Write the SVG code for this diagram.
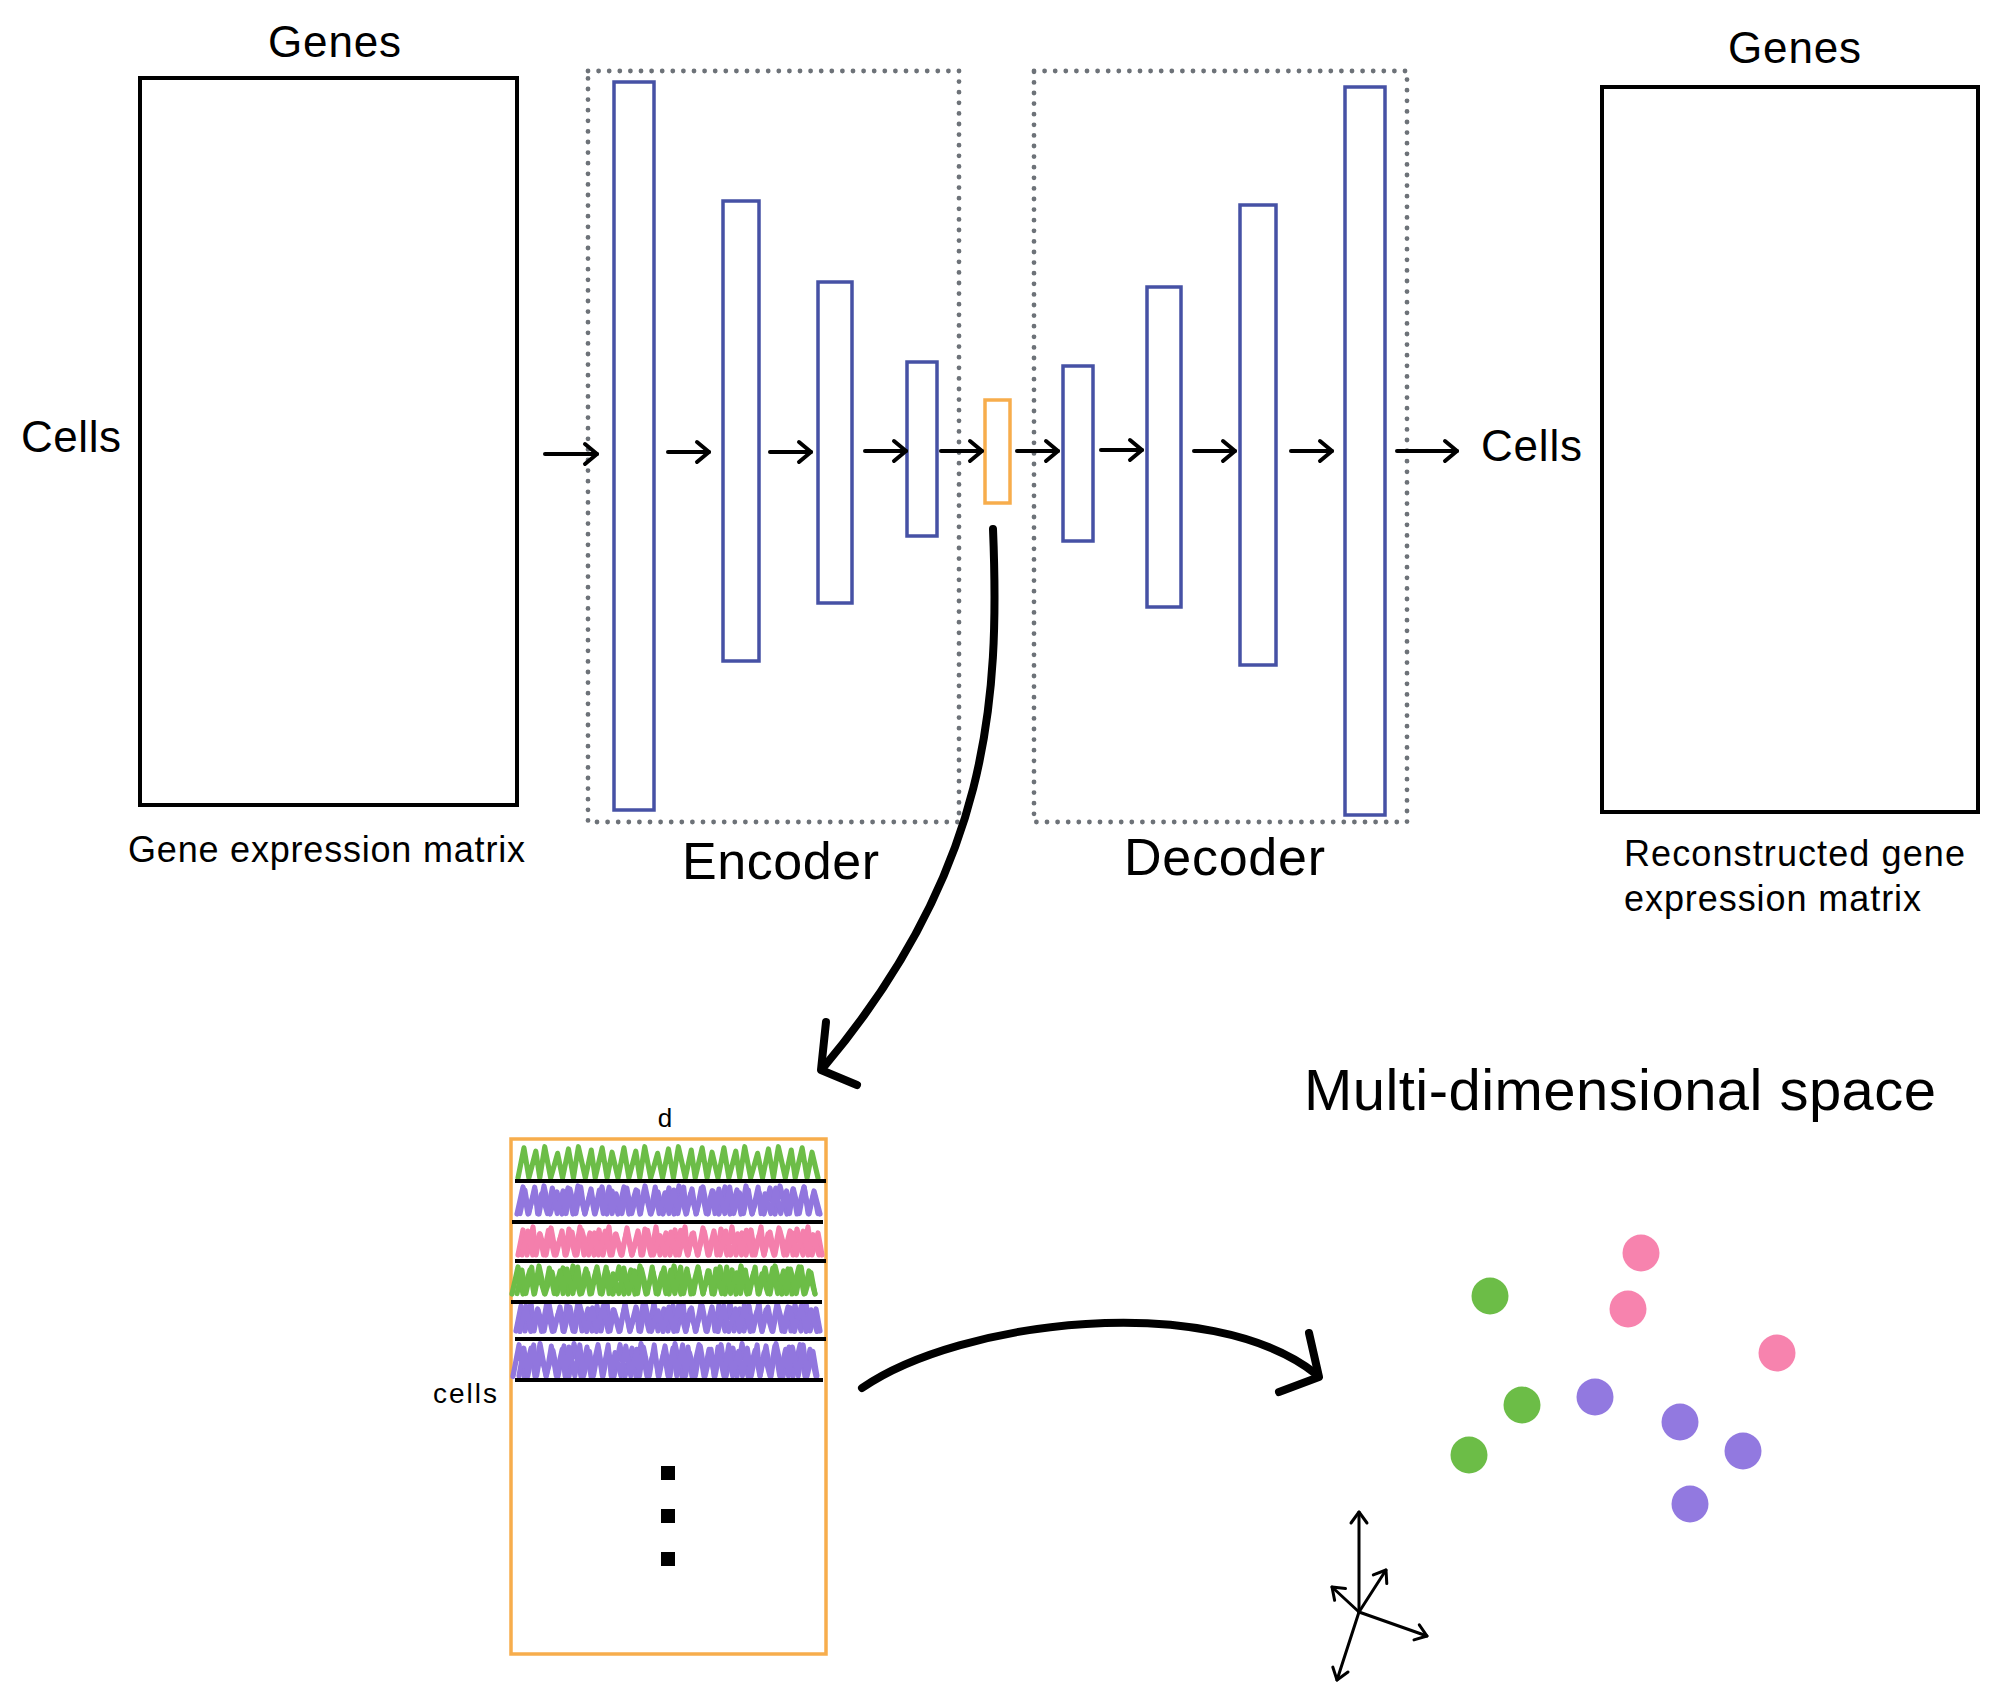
<svg xmlns="http://www.w3.org/2000/svg" xmlns:xlink="http://www.w3.org/1999/xlink" width="2000" height="1701" viewBox="0 0 2000 1701">
<style>
.t{font-family:"Liberation Sans",Arial,Helvetica,sans-serif;fill:#000}
.mat{fill:none;stroke:#000;stroke-width:4}
.box{fill:none;stroke:#6d7278;stroke-width:4.8;stroke-dasharray:0 10.6;stroke-linecap:round}
.bar{fill:none;stroke:#4651a5;stroke-width:3.5}
.lat{fill:none;stroke:#f7ad4c;stroke-width:3.5}
.arr{fill:none;stroke:#000;stroke-width:4;stroke-linecap:round;marker-end:url(#ah)}
.big{fill:none;stroke:#000;stroke-width:8;stroke-linecap:round;stroke-linejoin:round}
.ax{fill:none;stroke:#000;stroke-width:3;stroke-linecap:round;marker-end:url(#axh)}
.sep{stroke:#000;stroke-width:4}
.scr{fill:none;stroke-width:5.2;stroke-linecap:round;stroke-linejoin:round}
.g{stroke:#6cbd47}
.p{stroke:#9176de}
.k{stroke:#f47fac}
.dg{fill:#6cbd47}
.dp{fill:#9279e0}
.dk{fill:#f783ae}
</style>
<defs>
<marker id="ah" viewBox="-16 -13 20 26" refX="0" refY="0" markerWidth="20" markerHeight="26" markerUnits="userSpaceOnUse" orient="auto" overflow="visible">
<path d="M-12,-10 L0,0 L-12,10" fill="none" stroke="#000" stroke-width="4" stroke-linecap="round" stroke-linejoin="round"/>
</marker>
<marker id="axh" viewBox="-14 -11 18 22" refX="0" refY="0" markerWidth="18" markerHeight="22" markerUnits="userSpaceOnUse" orient="auto" overflow="visible">
<path d="M-11,-8 L0,0 L-11,8" fill="none" stroke="#000" stroke-width="3" stroke-linecap="round" stroke-linejoin="round"/>
</marker>
<path id="z1" d="M0,28 l6,-27 l5,27 l7,-24 l4,24 l5,-28 l6,28 l7,-22 l5,22 l6,-26 l5,26 l5,-28 l7,28 l6,-25 l4,25 l7,-27 l5,27 l5,-23 l6,23 l6,-27 l5,27 l7,-24 l4,24 l5,-28 l6,28 l7,-22 l5,22 l6,-26 l5,26 l5,-28 l7,28 l6,-25 l4,25 l7,-27 l5,27 l5,-23 l6,23 l6,-27 l5,27 l7,-24 l4,24 l5,-28 l6,28 l7,-22 l5,22 l6,-26 l5,26 l5,-28 l7,28 l6,-25 l4,25 l7,-27 l5,27 l5,-23 l6,23"/>
<path id="z2" d="M0,27 l5,-25 l4,25 l6,-28 l3,28 l4,-21 l6,21 l5,-27 l5,27 l6,-24 l3,24 l4,-26 l6,26 l5,-28 l4,28 l6,-22 l4,22 l5,-25 l4,25 l6,-28 l3,28 l4,-21 l6,21 l5,-27 l5,27 l6,-24 l3,24 l4,-26 l6,26 l5,-28 l4,28 l6,-22 l4,22 l5,-25 l4,25 l6,-28 l3,28 l4,-21 l6,21 l5,-27 l5,27 l6,-24 l3,24 l4,-26 l6,26 l5,-28 l4,28 l6,-22 l4,22 l5,-25 l4,25 l6,-28 l3,28 l4,-21 l6,21 l5,-27 l5,27 l6,-24 l3,24 l4,-26 l6,26 l5,-28 l4,28 l6,-22 l4,22"/>
</defs>
<rect width="2000" height="1701" fill="#fff"/>

<g id="input-matrix">
<rect class="mat" x="140" y="78" width="377" height="727"/>
<text class="t" x="268" y="57" font-size="44" textLength="133">Genes</text>
<text class="t" x="21" y="452" font-size="44" textLength="100">Cells</text>
<text class="t" x="128" y="862" font-size="36" textLength="397">Gene expression matrix</text>
</g>

<g id="encoder">
<rect class="box" x="588" y="71" width="371" height="751"/>
<rect class="bar" x="614" y="82" width="40" height="728"/>
<rect class="bar" x="723" y="201" width="36" height="460"/>
<rect class="bar" x="818" y="282" width="34" height="321"/>
<rect class="bar" x="907" y="362" width="30" height="174"/>
<text class="t" x="682" y="879" font-size="52" textLength="197">Encoder</text>
</g>

<g id="latent">
<rect class="lat" x="985" y="400" width="25" height="103"/>
</g>

<g id="decoder">
<rect class="box" x="1034" y="71" width="373" height="751"/>
<rect class="bar" x="1063" y="366" width="30" height="175"/>
<rect class="bar" x="1147" y="287" width="34" height="320"/>
<rect class="bar" x="1240" y="205" width="36" height="460"/>
<rect class="bar" x="1345" y="87" width="40" height="728"/>
<text class="t" x="1124" y="875" font-size="52" textLength="201">Decoder</text>
</g>

<g id="output-matrix">
<rect class="mat" x="1602" y="87" width="376" height="725"/>
<text class="t" x="1728" y="63" font-size="44" textLength="133">Genes</text>
<text class="t" x="1481" y="461" font-size="44" textLength="101">Cells</text>
<text class="t" x="1624" y="866" font-size="36" textLength="341">Reconstructed gene</text>
<text class="t" x="1624" y="911" font-size="36" textLength="297">expression matrix</text>
</g>

<g id="embedding-matrix">
<rect class="lat" x="511" y="1139" width="315" height="515"/>
<text class="t" x="665" y="1127" font-size="26" text-anchor="middle">d</text>
<text class="t" x="433" y="1403" font-size="28" textLength="64">cells</text>
<g class="scr">
<g class="g" transform="translate(518,1147) scale(0.99,1.1)"><use xlink:href="#z1"/></g>
<g class="p" transform="translate(517,1186)"><use xlink:href="#z1"/><use xlink:href="#z2" transform="translate(3,2) scale(0.98,0.95)"/></g>
<g class="k" transform="translate(518,1228)"><use xlink:href="#z2"/><use xlink:href="#z1" transform="translate(4,2) scale(0.98,0.9)"/></g>
<g class="g" transform="translate(512,1266)"><use xlink:href="#z1"/><use xlink:href="#z2" transform="translate(5,2) scale(0.98,0.95)"/></g>
<g class="p" transform="translate(516,1304)"><use xlink:href="#z2"/><use xlink:href="#z1" transform="translate(4,1) scale(0.98,0.95)"/></g>
<g class="p" transform="translate(513,1344) scale(1,1.15)"><use xlink:href="#z1"/><use xlink:href="#z2" transform="translate(6,2) scale(0.98,0.95)"/></g>
</g>
<line class="sep" x1="515" y1="1181" x2="826" y2="1181"/>
<line class="sep" x1="512" y1="1222" x2="823" y2="1222"/>
<line class="sep" x1="515" y1="1261" x2="826" y2="1261"/>
<line class="sep" x1="511" y1="1302" x2="822" y2="1302"/>
<line class="sep" x1="515" y1="1339" x2="826" y2="1339"/>
<line class="sep" x1="515" y1="1380" x2="823" y2="1380"/>
<rect x="661" y="1466" width="14" height="14" fill="#000"/>
<rect x="661" y="1509" width="14" height="14" fill="#000"/>
<rect x="661" y="1552" width="14" height="14" fill="#000"/>
</g>

<g id="multi-dimensional-space">
<text class="t" x="1304" y="1110" font-size="58" textLength="632">Multi-dimensional space</text>
<circle class="dk" cx="1641" cy="1253" r="18.5"/>
<circle class="dk" cx="1628" cy="1309" r="18.5"/>
<circle class="dk" cx="1777" cy="1353" r="18.5"/>
<circle class="dg" cx="1490" cy="1296" r="18.5"/>
<circle class="dg" cx="1522" cy="1405" r="18.5"/>
<circle class="dg" cx="1469" cy="1455" r="18.5"/>
<circle class="dp" cx="1595" cy="1397" r="18.5"/>
<circle class="dp" cx="1680" cy="1422" r="18.5"/>
<circle class="dp" cx="1743" cy="1451" r="18.5"/>
<circle class="dp" cx="1690" cy="1504" r="18.5"/>
<g id="axes">
<path class="ax" d="M1359,1612 L1359,1512"/>
<path class="ax" d="M1359,1612 L1337,1680"/>
<path class="ax" d="M1359,1612 L1427,1636"/>
<path class="ax" d="M1359,1612 L1386,1570"/>
<path class="ax" d="M1359,1612 L1332,1587"/>
</g>
</g>

<g id="connectors">
<path class="arr" d="M545,454 H597"/>
<path class="arr" d="M668,452 H709"/>
<path class="arr" d="M770,452 H811"/>
<path class="arr" d="M865,451 H906"/>
<path class="arr" d="M941,451 H982"/>
<path class="arr" d="M1017,451 H1058"/>
<path class="arr" d="M1101,450 H1142"/>
<path class="arr" d="M1194,451 H1235"/>
<path class="arr" d="M1291,451 H1332"/>
<path class="arr" d="M1397,451 H1457"/>
<path class="big" d="M993,529 C1000,700 990,870 823,1068"/>
<path class="big" d="M826,1022 L821,1070 L857,1085"/>
<path class="big" d="M862,1388 C960,1320 1210,1290 1316,1374"/>
<path class="big" d="M1309,1333 L1319,1377 L1279,1392"/>
</g>
</svg>
